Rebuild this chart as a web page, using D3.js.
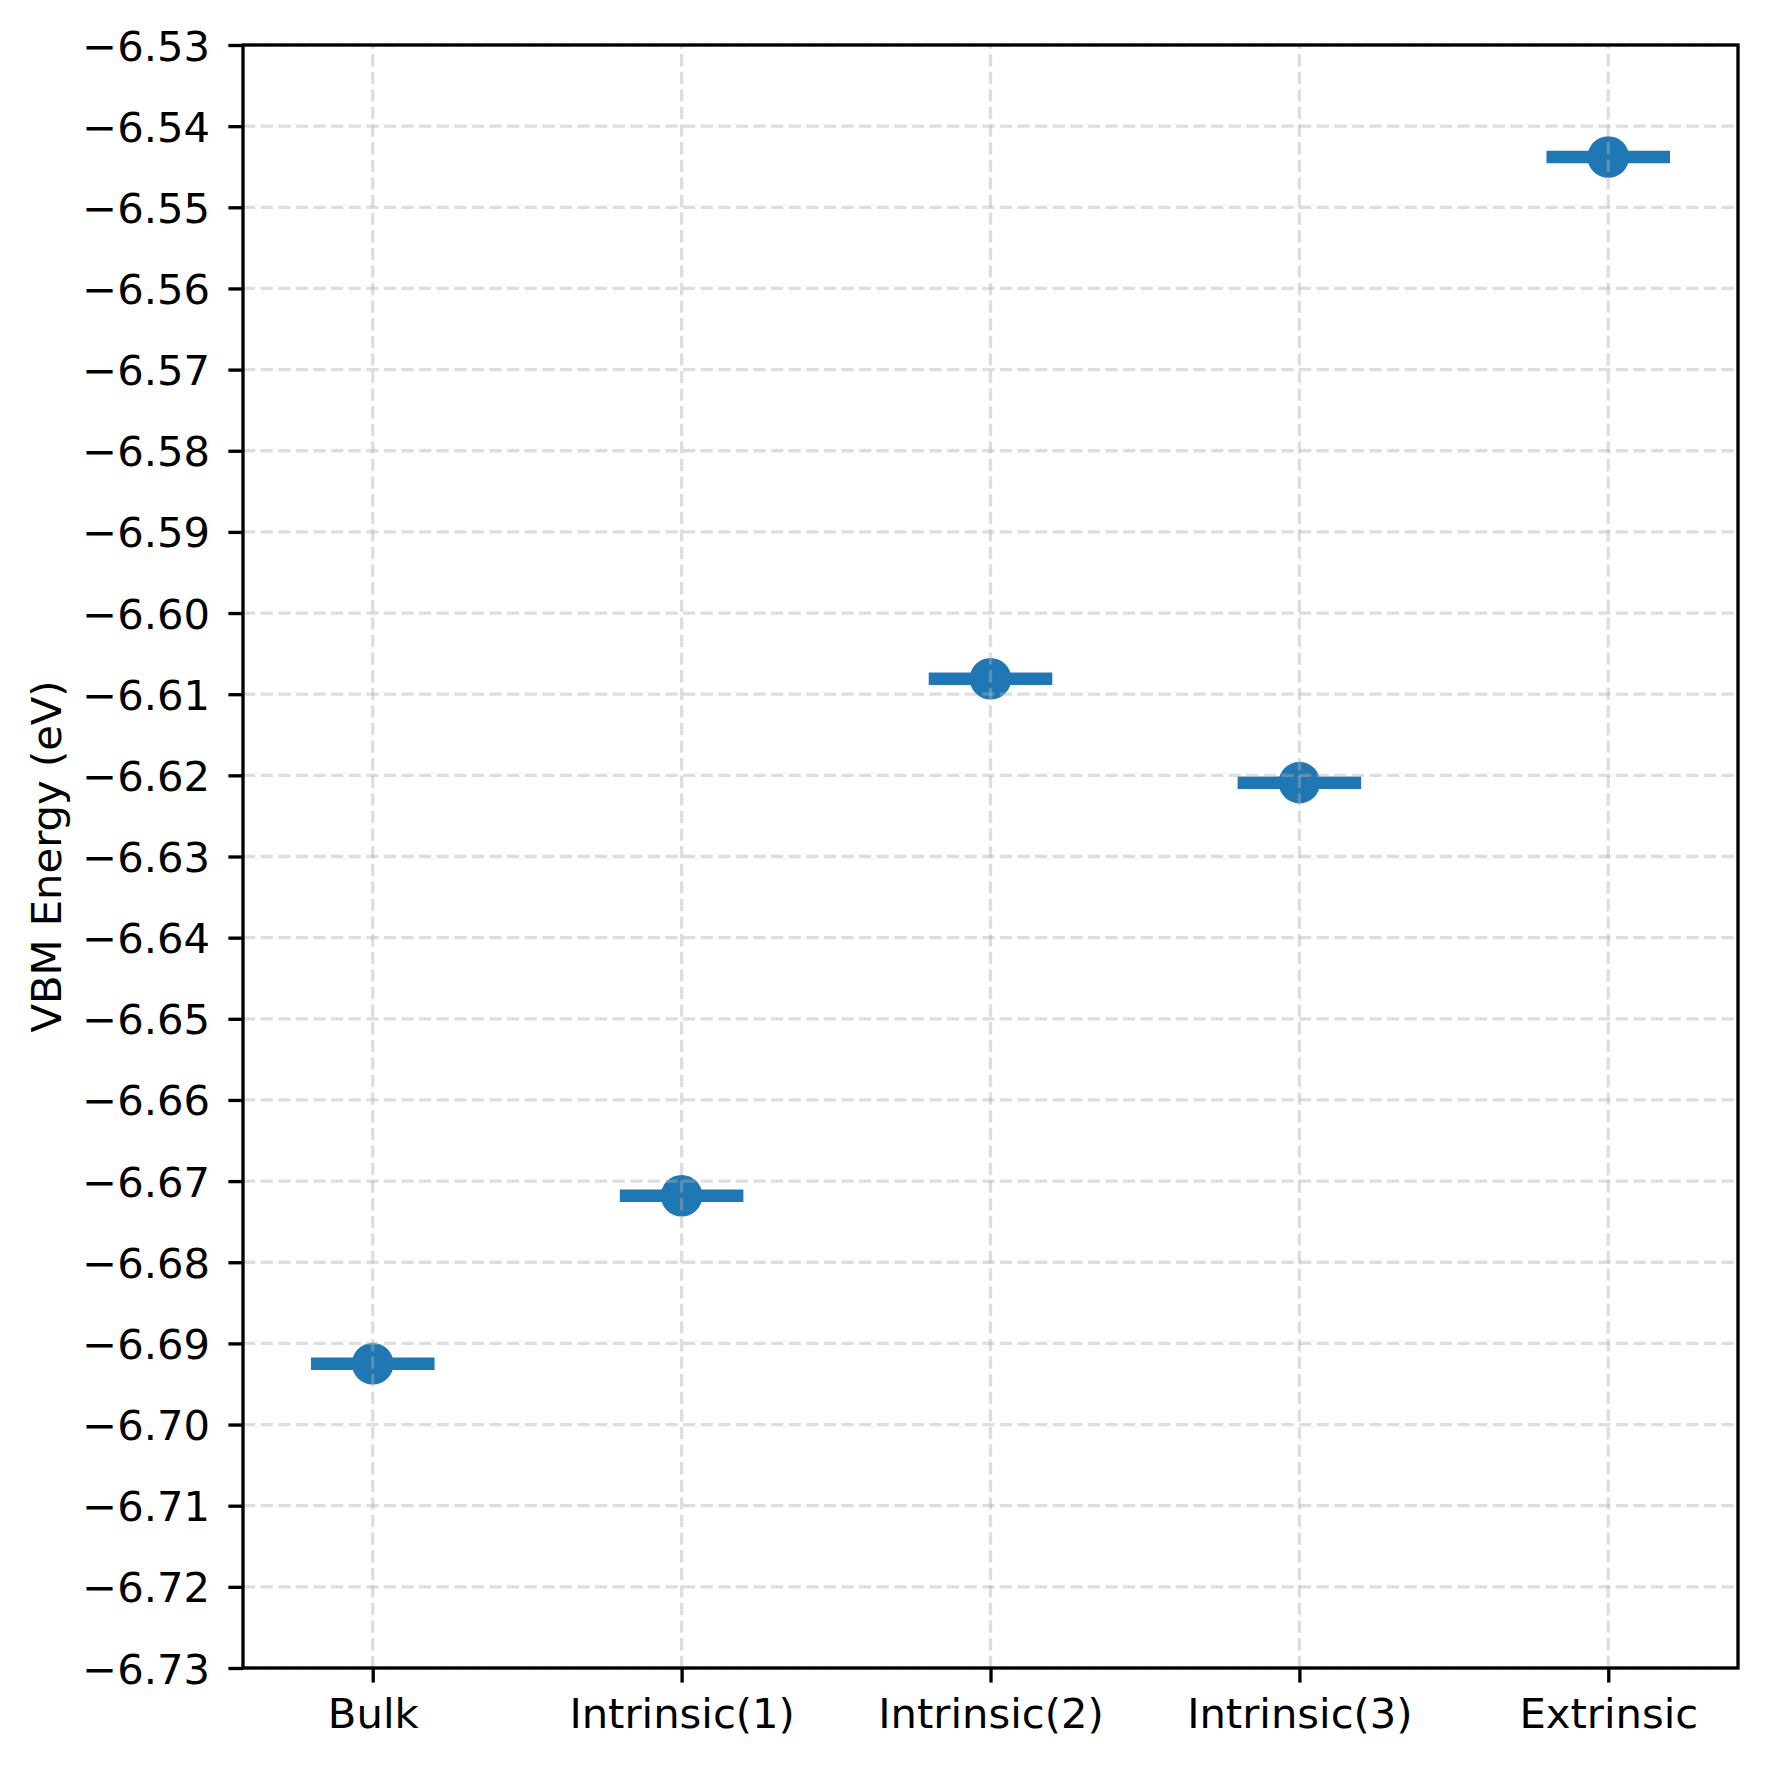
<!DOCTYPE html>
<html>
<head>
<meta charset="utf-8">
<script src="https://cdn.jsdelivr.net/npm/d3@7"></script>
<style>
  html, body { margin: 0; padding: 0; background: #ffffff; }
  svg { display: block; }
  text { font-family: "DejaVu Sans", sans-serif; fill: #000; }
</style>
</head>
<body>
<svg id="chart" width="1767" height="1767"></svg>
<script>
// ---- data ----
const categories = ["Bulk", "Intrinsic(1)", "Intrinsic(2)", "Intrinsic(3)", "Extrinsic"];
const vbmEnergy = [-6.6925, -6.6718, -6.6081, -6.6209, -6.5438];
const xError = [0.2, 0.2, 0.2, 0.2, 0.2];
const yTickValues = [-6.73, -6.72, -6.71, -6.70, -6.69, -6.68, -6.67, -6.66, -6.65, -6.64,
                     -6.63, -6.62, -6.61, -6.60, -6.59, -6.58, -6.57, -6.56, -6.55, -6.54, -6.53];
const yLabel = "VBM Energy (eV)";

// ---- layout ----
const W = 1767, H = 1767;
const plotL = 243, plotR = 1738, plotT = 45, plotB = 1668;
const fontPx = 41.7;
const color = "#1f77b4";

const svg = d3.select("#chart");
svg.append("rect").attr("width", W).attr("height", H).attr("fill", "#fff");

const x = d3.scaleLinear().domain([-0.42, 4.42]).range([plotL, plotR]);
const y = d3.scaleLinear().domain([-6.73, -6.53]).range([plotB, plotT]);

const data = categories.map((c, i) => ({ c, i, v: vbmEnergy[i], xe: xError[i] }));

// ---- error bars and markers ----
const marks = svg.append("g");
marks.selectAll("line.err").data(data).join("line")
  .attr("class", "err")
  .attr("x1", d => x(d.i - d.xe)).attr("x2", d => x(d.i + d.xe))
  .attr("y1", d => y(d.v)).attr("y2", d => y(d.v))
  .attr("stroke", color).attr("stroke-width", 12.5);
marks.selectAll("circle").data(data).join("circle")
  .attr("cx", d => x(d.i)).attr("cy", d => y(d.v))
  .attr("r", 20.8).attr("fill", color);

// ---- grid (drawn above, light dashed) ----
const grid = svg.append("g").attr("stroke", "#b0b0b0").attr("stroke-opacity", 0.42)
  .attr("stroke-width", 3.33).attr("stroke-dasharray", "12.3,5.3");
grid.selectAll("line.h").data(yTickValues).join("line")
  .attr("class", "h")
  .attr("x1", plotL).attr("x2", plotR)
  .attr("y1", d => y(d)).attr("y2", d => y(d));
grid.selectAll("line.v").data(categories.map((c, i) => i)).join("line")
  .attr("class", "v")
  .attr("x1", d => x(d)).attr("x2", d => x(d))
  .attr("y1", plotB).attr("y2", plotT);

// ---- axes ----
const fmt = d => d3.format(".2f")(d).replace("-", "\u2212");
const yAxis = d3.axisLeft(y).tickValues(yTickValues).tickFormat(fmt)
  .tickSizeInner(14.6).tickSizeOuter(0).tickPadding(14.6);
const gy = svg.append("g").attr("transform", `translate(${plotL},0)`).call(yAxis);
gy.select(".domain").remove();
gy.selectAll(".tick line").attr("stroke", "#000").attr("stroke-width", 3.33);
gy.selectAll(".tick text").attr("font-size", fontPx).attr("font-family", "DejaVu Sans")
  .attr("fill", "#000").attr("dy", "0.36em").attr("x", -33);

const xAxis = d3.axisBottom(x).tickValues(categories.map((c, i) => i))
  .tickFormat(i => categories[i]).tickSizeInner(14.6).tickSizeOuter(0).tickPadding(14.6);
const gx = svg.append("g").attr("transform", `translate(0,${plotB})`).call(xAxis);
gx.select(".domain").remove();
gx.selectAll(".tick line").attr("stroke", "#000").attr("stroke-width", 3.33);
gx.selectAll(".tick text").attr("font-size", fontPx).attr("font-family", "DejaVu Sans")
  .attr("fill", "#000").attr("dy", null).attr("y", 60);

// ---- frame ----
svg.append("rect").attr("x", plotL).attr("y", plotT)
  .attr("width", plotR - plotL).attr("height", plotB - plotT)
  .attr("fill", "none").attr("stroke", "#000").attr("stroke-width", 3.33);

// ---- y label ----
svg.append("text")
  .attr("transform", `translate(61,${(plotT + plotB) / 2}) rotate(-90)`)
  .attr("text-anchor", "middle")
  .attr("font-size", fontPx)
  .text(yLabel);
</script>
</body>
</html>
